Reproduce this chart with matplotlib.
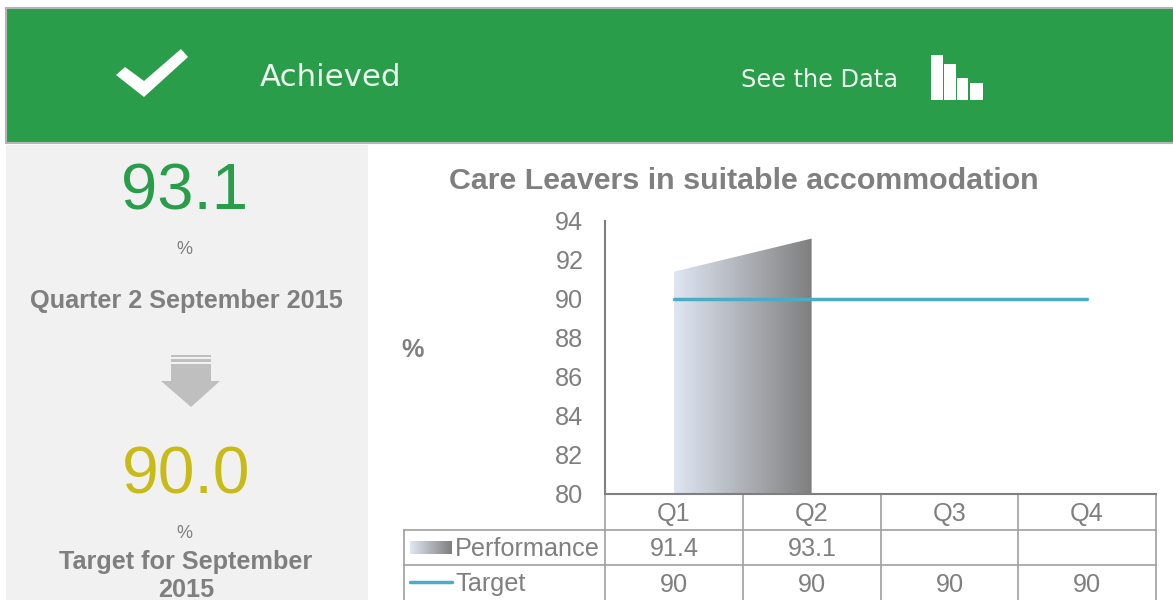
import numpy as np
import matplotlib
matplotlib.use("Agg")
import matplotlib.pyplot as plt
from matplotlib.colors import LinearSegmentedColormap
from matplotlib.patches import Polygon, Rectangle

plt.rcParams['font.family'] = ['Liberation Sans', 'DejaVu Sans']

# Data
quarters = ['Q1', 'Q2', 'Q3', 'Q4']
performance = [91.4, 93.1]
target = [90, 90, 90, 90]
performance_labels = ['91.4', '93.1', '', '']
target_labels = ['90', '90', '90', '90']
y_ticks = [80, 82, 84, 86, 88, 90, 92, 94]
icon_heights = [45, 36, 22, 17]

W, H = 1173, 600
GREEN = '#2a9d4a'
GREY = '#7f7f7f'
GOLD = '#c9bb17'
BLUE = '#4bacc6'
LINE = '#a0a0a0'
FS = 18.2

fig = plt.figure(figsize=(W / 100, H / 100), dpi=100, facecolor='white')

# page layer in pixel coordinates
bg = fig.add_axes([0, 0, 1, 1])
bg.set_xlim(0, W)
bg.set_ylim(H, 0)
bg.axis('off')

bg.add_patch(Rectangle((6, 8), W, 135, fc=GREEN, ec='#b5b5b5', lw=1.5))
bg.add_patch(Rectangle((6, 145), 362, 455, fc='#f1f1f1', ec='none'))

# tick mark
bg.add_patch(Polygon([(116, 75), (125, 67), (144, 81), (181, 49), (188, 57), (144, 97)],
                     fc='white', ec='none'))
bg.text(260, 78, 'Achieved', color='#eef6f0', fontsize=22.2, family='DejaVu Sans',
        va='center', ha='left')
bg.text(741, 80, 'See the Data', color='#eef6f0', fontsize=17.3, family='DejaVu Sans',
        va='center', ha='left')

# little bar icon
for x0, w, h in zip([931, 943.5, 957, 970], [12, 12.5, 11, 13], icon_heights):
    bg.bar(x0, -h, width=w, bottom=100, align='edge', color='white')

# left panel
bg.text(184, 193, '93.1', color=GREEN, fontsize=47, ha='center', va='center')
bg.text(184, 250, '%', color=GREY, fontsize=13, ha='center', va='center')
bg.text(186, 301, 'Quarter 2 September 2015', color=GREY, fontsize=FS, fontweight='bold',
        ha='center', va='center')

# down arrow
bg.add_patch(Rectangle((171, 355), 40, 2, fc='#bfbfbf', ec='none'))
bg.add_patch(Rectangle((171, 359), 40, 3, fc='#bfbfbf', ec='none'))
bg.add_patch(Polygon([(171, 364), (211, 364), (211, 381), (220, 381), (191, 407),
                      (161, 381), (171, 381)], fc='#bfbfbf', ec='none'))

bg.text(186, 477, '90.0', color=GOLD, fontsize=47.5, ha='center', va='center')
bg.text(184, 533, '%', color=GREY, fontsize=13, ha='center', va='center')
bg.text(186, 562, 'Target for September', color=GREY, fontsize=FS, fontweight='bold',
        ha='center', va='center')
bg.text(186, 590, '2015', color=GREY, fontsize=FS, fontweight='bold',
        ha='center', va='center')

bg.text(744, 181, 'Care Leavers in suitable accommodation', color=GREY, fontsize=21.85,
        fontweight='bold', ha='center', va='center')
bg.text(413, 350, '%', color=GREY, fontsize=FS, fontweight='bold', ha='center', va='center')

# chart
ax = fig.add_axes([605 / W, 1 - 494 / H, (1156 - 605) / W, (494 - 221) / H])
ax.patch.set_alpha(0)
ax.set_xlim(-0.5, 3.5)
ax.set_ylim(80, 94)
ax.set_yticks(y_ticks)
ax.set_xticks([])
ax.tick_params(axis='y', length=0, labelsize=FS, labelcolor=GREY, pad=15.5)
for s in ['top', 'right']:
    ax.spines[s].set_visible(False)
for s in ['left', 'bottom']:
    ax.spines[s].set_color(GREY)
    ax.spines[s].set_linewidth(1.5)

x_perf = np.arange(len(performance))
area = ax.fill_between(x_perf, performance, 80, color='none')
cmap = LinearSegmentedColormap.from_list('perf', ['#dfe6f2', '#7f7f7f'])
img = ax.imshow(np.linspace(0, 1, 256).reshape(1, -1), extent=[x_perf[0], x_perf[-1], 80, 94],
                aspect='auto', cmap=cmap, zorder=2)
img.set_clip_path(area.get_paths()[0], transform=ax.transData)
ax.set_xlim(-0.5, 3.5)
ax.set_ylim(80, 94)

ax.plot(range(len(target)), target, color=BLUE, lw=2.5, zorder=3, solid_capstyle='round')

# data table under the chart
col_x = [605, 743, 881, 1018, 1156]
bg.plot([404, 1156], [530, 530], color=LINE, lw=1.2)
bg.plot([404, 1156], [565, 565], color=LINE, lw=1.2)
bg.plot([404, 404], [530, 600], color=LINE, lw=1.2)
for x in col_x:
    bg.plot([x, x], [494, 600], color=LINE, lw=1.2)

for i, q in enumerate(quarters):
    xc = (col_x[i] + col_x[i + 1]) / 2
    bg.text(xc, 514, q, color=GREY, fontsize=FS, ha='center', va='center')
    bg.text(xc, 549, performance_labels[i], color=GREY, fontsize=FS, ha='center', va='center')
    bg.text(xc, 585, target_labels[i], color=GREY, fontsize=FS, ha='center', va='center')

# legend keys inside the table
bg.imshow(np.linspace(0, 1, 64).reshape(1, -1), extent=[410, 452, 554, 541], aspect='auto',
          cmap=cmap)
bg.set_xlim(0, W)
bg.set_ylim(H, 0)
bg.plot([410, 452], [582, 582], color=BLUE, lw=2.5, solid_capstyle='round')
bg.text(455, 549, 'Performance', color=GREY, fontsize=FS, ha='left', va='center')
bg.text(455, 584, 'Target', color=GREY, fontsize=FS, ha='left', va='center')

fig.savefig('out.png', dpi=100, facecolor='white')
